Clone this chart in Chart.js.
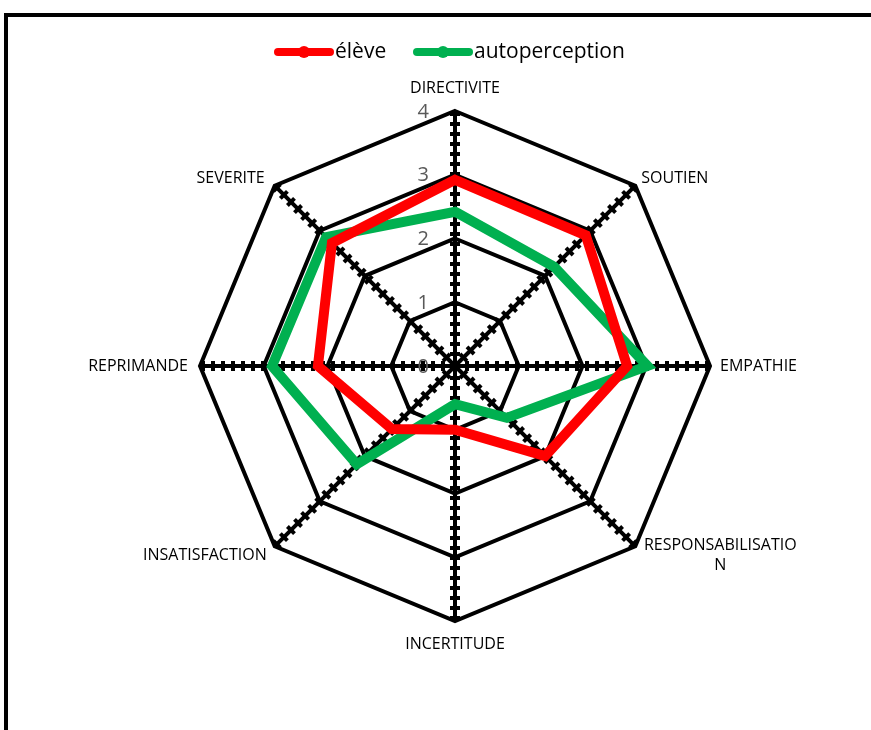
<!DOCTYPE html>
<html>
<head>
<meta charset="utf-8">
<script src="https://cdn.jsdelivr.net/npm/chart.js@4"></script>
<style>
  html, body { margin: 0; padding: 0; background: #fff; }
  #wrap { position: relative; width: 871px; height: 730px; overflow: hidden; }
  #frame { position: absolute; left: 4px; top: 13px; width: 900px; height: 800px;
           border-left: 4px solid #000; border-top: 4px solid #000; }
  canvas { position: absolute; left: 0; top: 0; }
</style>
</head>
<body>
<div id="wrap">
  <div id="frame"></div>
  <canvas id="radar" width="871" height="730"></canvas>
</div>
<script>
// données
const categories = ["DIRECTIVITE", "SOUTIEN", "EMPATHIE", ["RESPONSABILISATIO", "N"],
  "INCERTITUDE", "INSATISFACTION", "REPRIMANDE", "SEVERITE"];
const seriesNames = ["élève", "autoperception"];
const eleve = [2.92, 2.9, 2.7, 2.0, 1.0, 1.4, 2.15, 2.73];
const autoperception = [2.42, 2.2, 3.02, 1.15, 0.6, 2.18, 2.87, 2.86];
const tickValues = [0, 1, 2, 3, 4];

const RED = "#ff0000";
const GREEN = "#00b050";

// traits pointillés sur les axes + libellés + légende
const decorPlugin = {
  id: "decor",
  beforeDatasetsDraw(chart) {
    const scale = chart.scales.r;
    const ctx = chart.ctx;
    ctx.save();
    ctx.strokeStyle = "#000";
    ctx.lineWidth = 10;
    ctx.setLineDash([4, 6]);
    for (let i = 0; i < categories.length; i++) {
      const p = scale.getPointPosition(i, scale.drawingArea);
      ctx.beginPath();
      ctx.moveTo(scale.xCenter, scale.yCenter);
      ctx.lineTo(p.x, p.y);
      ctx.stroke();
    }
    ctx.restore();
  },
  afterDraw(chart) {
    const scale = chart.scales.r;
    const ctx = chart.ctx;
    ctx.save();

    // graduations
    ctx.font = "20px 'Open Sans'";
    ctx.fillStyle = "#595959";
    ctx.textAlign = "right";
    ctx.textBaseline = "middle";
    tickValues.forEach((v) => {
      const d = scale.getDistanceFromCenterForValue(v);
      ctx.fillText(String(v), scale.xCenter - 26, scale.yCenter - d + 1);
    });

    // libellés des axes
    ctx.font = "16px 'Open Sans'";
    ctx.fillStyle = "#000";
    const place = [
      { dx: 0, dy: -23, align: "center" },
      { dx: 6, dy: -7, align: "left" },
      { dx: 10, dy: 0, align: "left" },
      { dx: 85, dy: -1, align: "center" },
      { dx: 0, dy: 23, align: "center" },
      { dx: -8, dy: 9, align: "right" },
      { dx: -12, dy: 0, align: "right" },
      { dx: -10, dy: -7, align: "right" },
    ];
    categories.forEach((lab, i) => {
      const p = scale.getPointPosition(i, scale.drawingArea);
      const lines = Array.isArray(lab) ? lab : [lab];
      ctx.textAlign = place[i].align;
      lines.forEach((t, k) => {
        ctx.fillText(t, p.x + place[i].dx, p.y + place[i].dy + k * 20);
      });
    });

    // légende
    ctx.font = "21px 'Open Sans'";
    ctx.textAlign = "left";
    const legendX = [274, 413];
    chart.data.datasets.forEach((ds, i) => {
      const x = legendX[i];
      const y = 52;
      ctx.strokeStyle = ds.borderColor;
      ctx.lineWidth = 8;
      ctx.lineCap = "round";
      ctx.beginPath();
      ctx.moveTo(x + 4, y);
      ctx.lineTo(x + 56, y);
      ctx.stroke();
      ctx.fillStyle = ds.borderColor;
      ctx.beginPath();
      ctx.arc(x + 30, y, 6, 0, Math.PI * 2);
      ctx.fill();
      ctx.fillStyle = "#000";
      ctx.fillText(ds.label, x + 61, y);
    });
    ctx.restore();
  },
};

new Chart(document.getElementById("radar"), {
  type: "radar",
  data: {
    labels: categories,
    datasets: [
      {
        label: seriesNames[0],
        data: eleve,
        borderColor: RED,
        backgroundColor: RED,
        borderWidth: 10,
        pointRadius: 0,
        fill: false,
      },
      {
        label: seriesNames[1],
        data: autoperception,
        borderColor: GREEN,
        backgroundColor: GREEN,
        borderWidth: 10,
        pointRadius: 0,
        fill: false,
      },
    ],
  },
  options: {
    responsive: false,
    animation: false,
    layout: { padding: { left: 200, top: 111, right: 161, bottom: 109 } },
    plugins: { legend: { display: false }, tooltip: { enabled: false } },
    scales: {
      r: {
        min: 0,
        max: 4,
        ticks: { display: false, stepSize: 1 },
        pointLabels: { display: false },
        grid: { circular: false, color: "#000", lineWidth: 4 },
        angleLines: { display: true, color: "#000", lineWidth: 4 },
      },
    },
  },
  plugins: [decorPlugin],
});
</script>
</body>
</html>
